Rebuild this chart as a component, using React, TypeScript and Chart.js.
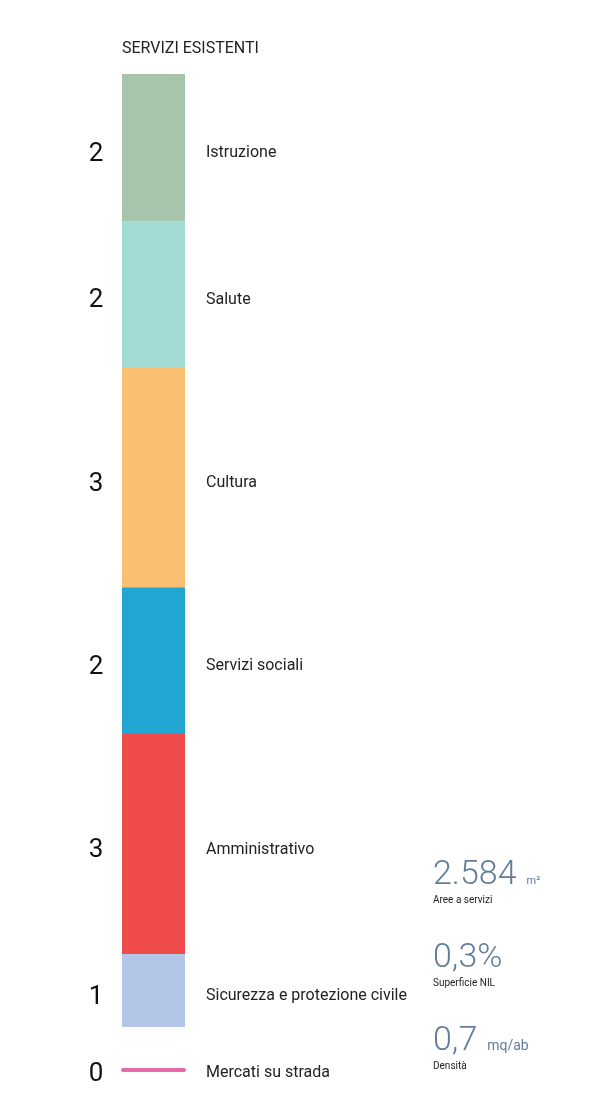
import React, { useEffect, useRef } from "react";
import { Chart, registerables } from "chart.js";

Chart.register(...registerables);

const categories = [
  "Istruzione",
  "Salute",
  "Cultura",
  "Servizi sociali",
  "Amministrativo",
  "Sicurezza e protezione civile",
  "Mercati su strada",
];
const values = [2, 2, 3, 2, 3, 1, 0];
const colors = ["#a6c5ab", "#a2dcd4", "#fbbf72", "#20a6d0", "#f04b4b", "#b3c6e7", "#e56aa8"];
const title = "SERVIZI ESISTENTI";
const statValues = ["2.584", "0,3%", "0,7"];
const statUnits = ["m²", "", "mq/ab"];
const statLabels = ["Aree a servizi", "Superficie NIL", "Densità"];

const FONT = "Roboto, 'Open Sans', sans-serif";

const labelsPlugin = {
  id: "segLabels",
  afterDraw(chart: any) {
    const ctx = chart.ctx;
    const area = chart.chartArea;
    ctx.save();
    // title
    ctx.fillStyle = "#222";
    ctx.font = `400 16px ${FONT}`;
    ctx.textAlign = "left";
    ctx.textBaseline = "middle";
    ctx.fillText(title, area.left, 49);

    chart.data.datasets.forEach((ds: any, i: number) => {
      const meta = chart.getDatasetMeta(i);
      const bar = meta.data[0];
      if (!bar) return;
      let yc: number;
      let ty: number;
      const v = ds.data[0];
      if (v > 0) {
        yc = (bar.y + bar.base) / 2;
        ty = yc + 6;
      } else {
        yc = area.bottom + 43;
        ty = yc + 3;
        ctx.strokeStyle = ds.backgroundColor;
        ctx.lineWidth = 4;
        ctx.lineCap = "round";
        ctx.beginPath();
        ctx.moveTo(bar.x - bar.width / 2 + 1, yc);
        ctx.lineTo(bar.x + bar.width / 2 - 1, yc);
        ctx.stroke();
      }
      ctx.fillStyle = "#111";
      ctx.font = `400 26px ${FONT}`;
      ctx.textAlign = "center";
      ctx.fillText(String(v), 96, ty + 1);
      ctx.fillStyle = "#222";
      ctx.font = `400 16px ${FONT}`;
      ctx.textAlign = "left";
      ctx.fillText(ds.label, 206, ty);
    });

    // stats
    const sx = 433;
    const baseY = [884, 967, 1050];
    statValues.forEach((sv, i) => {
      const y = baseY[i];
      ctx.fillStyle = "#627c9c";
      ctx.font = `300 34px ${FONT}`;
      ctx.textAlign = "left";
      ctx.textBaseline = "alphabetic";
      ctx.fillText(sv, sx, y);
      const w = ctx.measureText(sv).width;
      if (statUnits[i]) {
        ctx.font = `400 ${i === 0 ? 11 : 14}px ${FONT}`;
        ctx.fillText(statUnits[i], sx + w + 10, y);
      }
      ctx.fillStyle = "#222";
      ctx.font = `400 10px ${FONT}`;
      ctx.fillText(statLabels[i], sx, y + 19);
    });
    ctx.restore();
  },
};

export default function App() {
  const ref = useRef<HTMLCanvasElement>(null);
  useEffect(() => {
    if (!ref.current) return;
    const chart = new Chart(ref.current, {
      type: "bar",
      data: {
        labels: [""],
        datasets: categories.map((c, i) => ({
          label: c,
          data: [values[i]],
          backgroundColor: colors[i],
          borderWidth: 0,
          barPercentage: 1,
          categoryPercentage: 1,
        })),
      },
      options: {
        responsive: false,
        animation: false,
        layout: { padding: { left: 122, right: 420, top: 74, bottom: 75 } },
        plugins: { legend: { display: false }, tooltip: { enabled: false } },
        scales: {
          x: { stacked: true, display: false },
          y: { stacked: true, display: false, min: 0, max: 13, reverse: true },
        },
      },
      plugins: [labelsPlugin],
    });
    return () => chart.destroy();
  }, []);
  return (
    <div style={{ position: "absolute", left: 0, top: 0, width: 605, height: 1102 }}>
      <canvas ref={ref} width={605} height={1102} style={{ width: 605, height: 1102 }} />
    </div>
  );
}
